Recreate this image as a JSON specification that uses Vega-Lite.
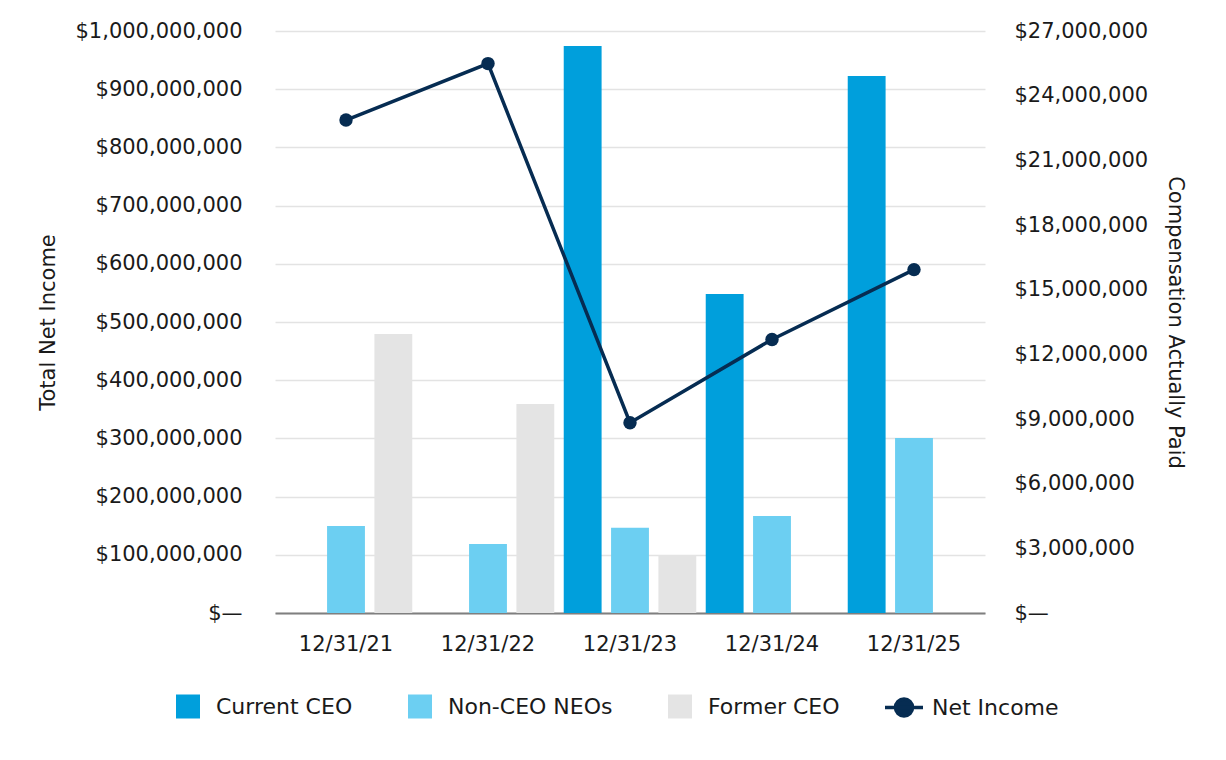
{
  "$schema": "https://vega.github.io/schema/vega-lite/v6.json",
  "width": 710,
  "height": 582,
  "autosize": {"type": "none"},
  "padding": {"left": 275, "top": 31, "right": 241, "bottom": 147},
  "background": "white",
  "config": {
    "font": "DejaVu Sans",
    "view": {"stroke": null},
    "axis": {
      "labelFont": "DejaVu Sans",
      "titleFont": "DejaVu Sans",
      "labelFontSize": 21,
      "titleFontSize": 21,
      "titleFontWeight": "normal",
      "labelColor": "#1a1a1a",
      "titleColor": "#1a1a1a"
    },
    "legend": {
      "labelFont": "DejaVu Sans",
      "labelFontSize": 22,
      "labelColor": "#1a1a1a",
      "labelLimit": 400,
      "padding": 0
    }
  },
  "datasets": {
    "cap": [
      {"date": "12/31/21", "category": "Non-CEO NEOs", "cap": 4040000},
      {"date": "12/31/21", "category": "Former CEO", "cap": 12940000},
      {"date": "12/31/22", "category": "Non-CEO NEOs", "cap": 3200000},
      {"date": "12/31/22", "category": "Former CEO", "cap": 9700000},
      {"date": "12/31/23", "category": "Current CEO", "cap": 26300000},
      {"date": "12/31/23", "category": "Non-CEO NEOs", "cap": 3960000},
      {"date": "12/31/23", "category": "Former CEO", "cap": 2690000},
      {"date": "12/31/24", "category": "Current CEO", "cap": 14800000},
      {"date": "12/31/24", "category": "Non-CEO NEOs", "cap": 4500000},
      {"date": "12/31/25", "category": "Current CEO", "cap": 24910000},
      {"date": "12/31/25", "category": "Non-CEO NEOs", "cap": 8120000}
    ],
    "ni": [
      {"date": "12/31/21", "ni": 847000000},
      {"date": "12/31/22", "ni": 944000000},
      {"date": "12/31/23", "ni": 327000000},
      {"date": "12/31/24", "ni": 470000000},
      {"date": "12/31/25", "ni": 590000000}
    ]
  },
  "layer": [
    {
      "data": {"name": "cap"},
      "mark": {"type": "bar"},
      "encoding": {
        "x": {
          "field": "date", "type": "nominal",
          "sort": ["12/31/21", "12/31/22", "12/31/23", "12/31/24", "12/31/25"],
          "scale": {"paddingInner": 0, "paddingOuter": 0},
          "title": null,
          "axis": {"domain": true, "domainColor": "#7f7f7f", "domainWidth": 2, "ticks": false, "tickSize": 0, "labelPadding": 20, "labelAngle": 0, "grid": false}
        },
        "xOffset": {
          "field": "category", "type": "nominal",
          "scale": {"domain": ["Current CEO", "Non-CEO NEOs", "Former CEO"], "paddingInner": 0.2, "paddingOuter": 0.1}
        },
        "y": {
          "field": "cap", "type": "quantitative",
          "scale": {"domain": [0, 27000000]},
          "title": "Compensation Actually Paid",
          "axis": {
            "orient": "right",
            "values": [0, 3000000, 6000000, 9000000, 12000000, 15000000, 18000000, 21000000, 24000000, 27000000],
            "labelExpr": "datum.value === 0 ? '$—' : '$' + format(datum.value, ',')",
            "grid": false, "domain": false, "ticks": false, "tickSize": 0,
            "labelPadding": 29, "titlePadding": 17
          }
        },
        "color": {
          "field": "category", "type": "nominal",
          "scale": {"domain": ["Current CEO", "Non-CEO NEOs", "Former CEO"], "range": ["#009fdc", "#6ccff2", "#e4e4e4"]},
          "legend": {
            "title": null, "orient": "none", "legendX": -99, "legendY": 663.5,
            "direction": "horizontal", "symbolType": "square", "symbolSize": 576,
            "labelOffset": 16, "columnPadding": 55, "symbolStrokeWidth": 0
          }
        }
      }
    },
    {
      "data": {"name": "ni"},
      "encoding": {
        "x": {
          "field": "date", "type": "nominal",
          "sort": ["12/31/21", "12/31/22", "12/31/23", "12/31/24", "12/31/25"],
          "title": null,
          "axis": {"domain": true, "domainColor": "#7f7f7f", "domainWidth": 2, "ticks": false, "tickSize": 0, "labelPadding": 20, "labelAngle": 0, "grid": false}
        },
        "y": {
          "field": "ni", "type": "quantitative",
          "scale": {"domain": [0, 1000000000]},
          "title": "Total Net Income",
          "axis": {
            "orient": "left",
            "values": [0, 100000000, 200000000, 300000000, 400000000, 500000000, 600000000, 700000000, 800000000, 900000000, 1000000000],
            "labelExpr": "datum.value === 0 ? '$—' : '$' + format(datum.value, ',')",
            "grid": true, "gridColor": "#e3e3e3", "gridWidth": 1.5,
            "domain": false, "ticks": false, "tickSize": 0,
            "labelPadding": 33, "titlePadding": 17
          }
        }
      },
      "layer": [
        {
          "mark": {"type": "line", "strokeWidth": 3.5},
          "encoding": {
            "stroke": {
              "datum": "Net Income",
              "scale": {"range": ["#062c52"]},
              "legend": {
                "title": null, "orient": "none", "legendX": 608, "legendY": 655.5,
                "symbolType": "M-1,0L1,0M-0.45,0A0.45,0.45,0,1,1,0.45,0A0.45,0.45,0,1,1,-0.45,0Z",
                "symbolSize": 1444, "symbolStrokeWidth": 3.5,
                "symbolFillColor": "#062c52", "symbolStrokeColor": "#062c52",
                "labelOffset": 7,
                "encode": {"symbols": {"update": {"fill": {"value": "#062c52"}, "stroke": {"value": "#062c52"}}}}
              }
            }
          }
        },
        {
          "mark": {"type": "point", "filled": true, "size": 180, "opacity": 1, "color": "#062c52"}
        }
      ]
    }
  ],
  "resolve": {"scale": {"y": "independent"}}
}
